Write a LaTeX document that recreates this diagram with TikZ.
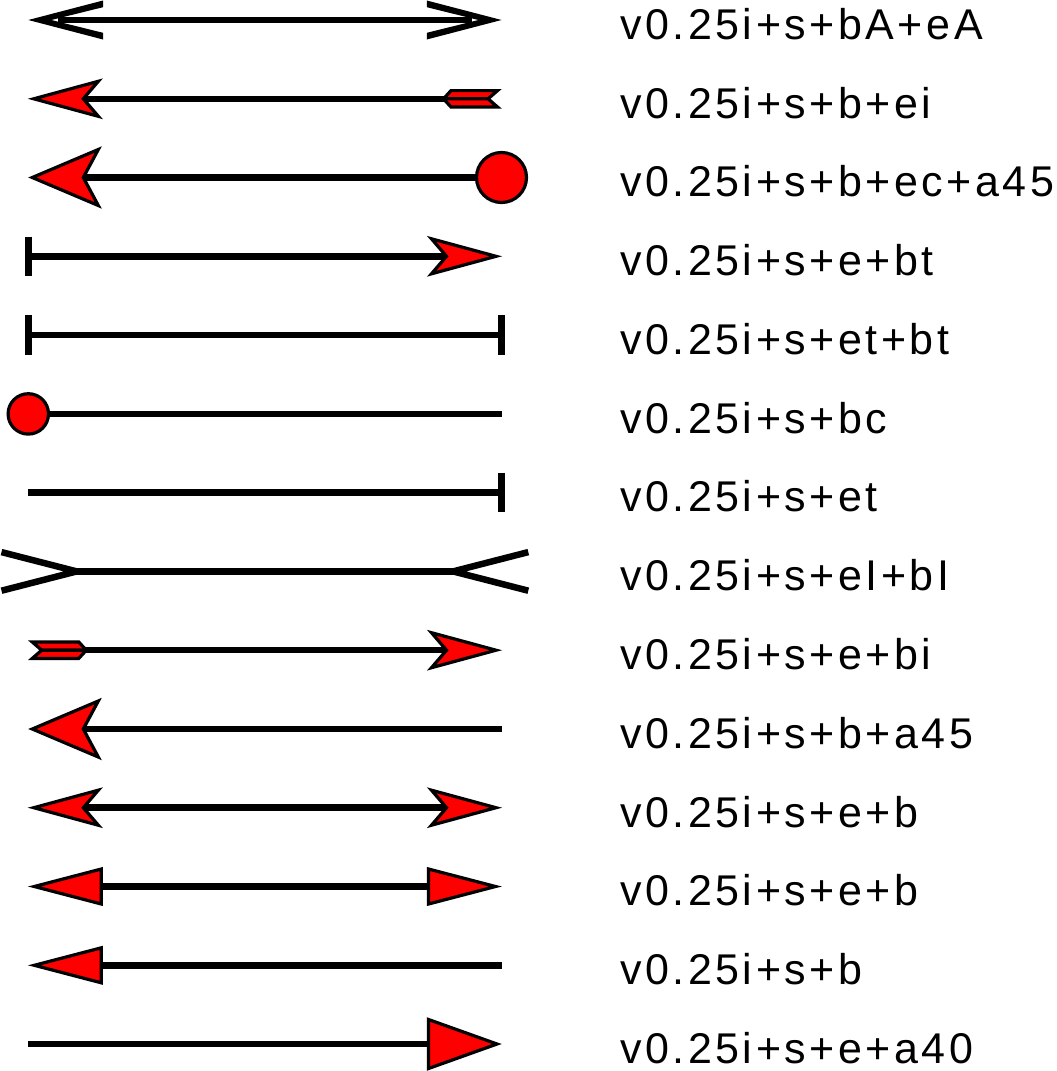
\documentclass[tikz,border=0pt]{standalone}
\usepackage{fontspec}
\newfontfamily\lab[LetterSpace=8.2]{Liberation Sans}
\tikzset{
  shaft/.style={line width=6.5pt},
  redhead/.style={fill=red,draw=black,line width=3.2pt,line join=miter},
  blackhead/.style={fill=black,draw=none},
  tickbar/.style={line width=6.5pt},
  lbl/.style={anchor=base west,inner sep=0pt,font=\lab\fontsize{43}{50}\selectfont},
  stealthS/.pic={\path[redhead] (5.5,0)--(70,-17.5)--(55,0)--(70,17.5)--cycle;},
  stealthL/.pic={\path[redhead] (4,0)--(70,-28)--(55,0)--(70,28)--cycle;},
  triS/.pic={\path[redhead] (6,0)--(73,-17.5)--(73,17.5)--cycle;},
  triL/.pic={\path[redhead] (4.5,0)--(73,-24.5)--(73,24.5)--cycle;},
  openA/.pic={\path[blackhead] (0,0)--(74.7,-19.5)--(74.7,-12.8)--(23,0)--(74.7,12.8)--(74.7,19.5)--cycle;},
  openI/.pic={\draw[line width=6.5pt,line join=miter] (-26.8,-19.3)--(48.4,0)--(-26.8,19.3);},
  tailF/.pic={\path[redhead] (13.4,0)--(4,-8.2)--(50.5,-8.2)--(58,0)--cycle;
              \path[redhead] (13.4,0)--(4,8.2)--(50.5,8.2)--(58,0)--cycle;},
  dotS/.pic={\path[redhead] (0,0) circle[radius=20.2];},
  dotL/.pic={\path[redhead] (0,0) circle[radius=25];}
}
\begin{document}
\begin{tikzpicture}[x=1pt,y=-1pt]
\useasboundingbox (0,0) rectangle (1057,1071);
% row anchors
\foreach \i/\y in {1/20,2/98.8,3/177.5,4/256.3,5/335.1,6/413.9,7/492.6,8/571.4,9/650.2,10/729,11/807.7,12/886.5,13/965.3,14/1044}{
  \coordinate (a\i) at (28.3,\y);
  \coordinate (b\i) at (501.5,\y);
}
% row 1: bA + eA
\draw[shaft] ([xshift=30pt]a1) -- ([xshift=-30pt]b1);
\pic at (a1) {openA};
\pic[xscale=-1] at (b1) {openA};
% row 2: b + ei
\draw[shaft] ([xshift=55pt]a2) -- ([xshift=-58pt]b2);
\pic at (a2) {stealthS};
\pic[xscale=-1] at (b2) {tailF};
% row 3: b + ec + a45
\draw[shaft] ([xshift=55pt]a3) -- (b3);
\pic at (a3) {stealthL};
\pic at (b3) {dotL};
% row 4: e + bt
\draw[shaft] (a4) -- ([xshift=-55pt]b4);
\draw[tickbar] ([yshift=19.7pt]a4) -- ([yshift=-19.7pt]a4);
\pic[xscale=-1] at (b4) {stealthS};
% row 5: et + bt
\draw[shaft] (a5) -- (b5);
\draw[tickbar] ([yshift=19.7pt]a5) -- ([yshift=-19.7pt]a5);
\draw[tickbar] ([yshift=19.7pt]b5) -- ([yshift=-19.7pt]b5);
% row 6: bc
\draw[shaft] (a6) -- (b6);
\pic at (a6) {dotS};
% row 7: et
\draw[shaft] (a7) -- (b7);
\draw[tickbar] ([yshift=19.7pt]b7) -- ([yshift=-19.7pt]b7);
% row 8: eI + bI
\draw[shaft] ([xshift=48.4pt]a8) -- ([xshift=-48.4pt]b8);
\pic at (a8) {openI};
\pic[xscale=-1] at (b8) {openI};
% row 9: e + bi
\draw[shaft] ([xshift=58pt]a9) -- ([xshift=-55pt]b9);
\pic at (a9) {tailF};
\pic[xscale=-1] at (b9) {stealthS};
% row 10: b + a45
\draw[shaft] ([xshift=55pt]a10) -- (b10);
\pic at (a10) {stealthL};
% row 11: e + b
\draw[shaft] ([xshift=55pt]a11) -- ([xshift=-55pt]b11);
\pic at (a11) {stealthS};
\pic[xscale=-1] at (b11) {stealthS};
% row 12: e + b (triangles)
\draw[shaft] ([xshift=73pt]a12) -- ([xshift=-73pt]b12);
\pic at (a12) {triS};
\pic[xscale=-1] at (b12) {triS};
% row 13: b
\draw[shaft] ([xshift=73pt]a13) -- (b13);
\pic at (a13) {triS};
% row 14: e + a40
\draw[shaft] (a14) -- ([xshift=-73pt]b14);
\pic[xscale=-1] at (b14) {triL};
% labels
\node[lbl] (t1) at (620,39.3) {v0.25i+s+bA+eA};
\node[lbl] (t2) at (620,118.1) {v0.25i+s+b+ei};
\node[lbl] (t3) at (620,196.8) {v0.25i+s+b+ec+a45};
\node[lbl] (t4) at (620,275.6) {v0.25i+s+e+bt};
\node[lbl] (t5) at (620,354.4) {v0.25i+s+et+bt};
\node[lbl] (t6) at (620,433.2) {v0.25i+s+bc};
\node[lbl] (t7) at (620,511.9) {v0.25i+s+et};
\node[lbl] (t8) at (620,590.7) {v0.25i+s+eI+bI};
\node[lbl] (t9) at (620,669.5) {v0.25i+s+e+bi};
\node[lbl] (t10) at (620,748.3) {v0.25i+s+b+a45};
\node[lbl] (t11) at (620,827) {v0.25i+s+e+b};
\node[lbl] (t12) at (620,905.8) {v0.25i+s+e+b};
\node[lbl] (t13) at (620,984.6) {v0.25i+s+b};
\node[lbl] (t14) at (620,1063.3) {v0.25i+s+e+a40};
\end{tikzpicture}
\end{document}
